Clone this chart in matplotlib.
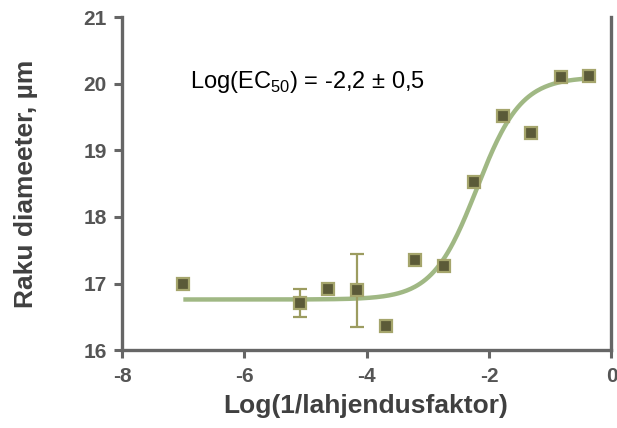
import numpy as np
import matplotlib
matplotlib.use('Agg')
import matplotlib.pyplot as plt

plt.rcParams['font.family'] = ['Liberation Sans', 'DejaVu Sans']
plt.rcParams['mathtext.fontset'] = 'custom'
plt.rcParams['mathtext.rm'] = 'Liberation Sans'
plt.rcParams['axes.unicode_minus'] = False

# mõõdetud punktid
log_dil = [-7.0, -5.10, -4.63, -4.16, -3.69, -3.21, -2.74, -2.25, -1.78, -1.31, -0.83, -0.36]
diam = [17.00, 16.71, 16.92, 16.90, 16.36, 17.35, 17.27, 18.52, 19.51, 19.26, 20.10, 20.12]
diam_err = [0.07, 0.21, 0.0, 0.55, 0.0, 0.0, 0.05, 0.0, 0.0, 0.0, 0.0, 0.0]

# sigmoidse sobituse parameetrid
fit_bottom = 16.76
fit_top = 20.10
fit_logec50 = -2.2
fit_hill = 1.2
fit_range = (-7.0, -0.3)

xticks = [-8, -6, -4, -2, 0]
yticks = [16, 17, 18, 19, 20, 21]

axis_col = '#666666'
text_col = '#555555'

fig = plt.figure(figsize=(6.17, 4.28), dpi=100)
ax = fig.add_axes([0.198, 0.182, 0.793, 0.778])

xf = np.linspace(fit_range[0], fit_range[1], 300)
yf = fit_bottom + (fit_top - fit_bottom) / (1 + 10 ** ((fit_logec50 - xf) * fit_hill))
ax.plot(xf, yf, color='#a0b884', lw=3.2, solid_capstyle='butt', zorder=2)

err = [e if e > 0 else np.nan for e in diam_err]
ax.errorbar(log_dil, diam, yerr=err, fmt='none', ecolor='#9c9c60', elinewidth=1.6,
            capsize=5, capthick=1.6, zorder=3)
ax.plot(log_dil, diam, 's', ms=8.5, mfc='#5b5a38', mec='#a5a56c', mew=1.6, zorder=4)

ax.set_xlim(-8, 0)
ax.set_ylim(16, 21)
ax.set_xticks(xticks)
ax.set_yticks(yticks)

ax.spines['top'].set_visible(False)
for side in ['left', 'bottom', 'right']:
    ax.spines[side].set_color(axis_col)
    ax.spines[side].set_linewidth(2.4)
ax.tick_params(axis='both', direction='out', length=6, width=2.2, color=axis_col,
               labelcolor=text_col, labelsize=15)
ax.tick_params(axis='y', right=False, pad=5)
ax.tick_params(axis='x', pad=6)
for lab in ax.get_xticklabels() + ax.get_yticklabels():
    lab.set_fontweight('bold')

ax.set_xlabel('Log(1/lahjendusfaktor)', fontsize=19, fontweight='bold', color='#404040')
ax.set_ylabel('Raku diameeter, \u00b5m', fontsize=19, fontweight='bold', color='#404040')
ax.xaxis.set_label_coords(0.497, -0.132)
ax.yaxis.set_label_coords(-0.172, 0.5)

ax.text(-6.89, 19.93, r'Log(EC$_{50}$) = -2,2 $\pm$ 0,5', fontsize=17, color='black',
        va='baseline')

fig.savefig('out.png', dpi=100)
